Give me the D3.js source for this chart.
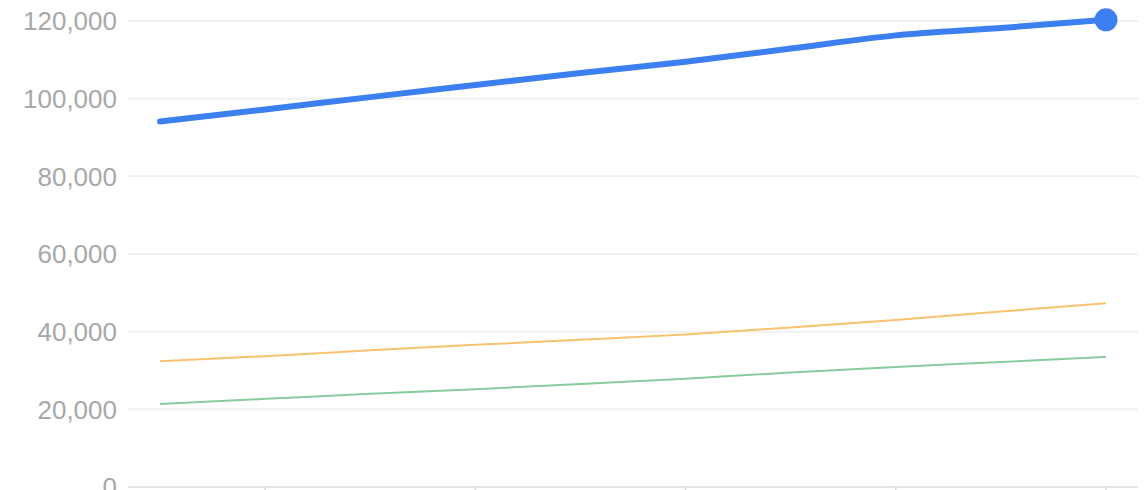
<!DOCTYPE html>
<html>
<head>
<meta charset="utf-8">
<script src="https://cdn.jsdelivr.net/npm/d3@7"></script>
<style>
  html, body { margin: 0; padding: 0; background: #fff; overflow: hidden; }
  svg { display: block; }
  .tick-label { font-family: "Liberation Sans", Arial, sans-serif; font-size: 26px; fill: #a8a8a8; }
</style>
</head>
<body>
<svg id="chart" width="1147" height="490"></svg>
<script>
// data
const periods = ["P1", "P2", "P3", "P4", "P5", "P6", "P7", "P8", "P9", "P10"];
const blueSeries = [94100, 97200, 100400, 103500, 106600, 109500, 112900, 116300, 118200, 120300];
const orangeSeries = [32400, 33700, 35200, 36600, 37900, 39300, 41100, 43000, 45200, 47300];
const greenSeries = [21400, 22700, 24000, 25200, 26500, 27900, 29500, 30900, 32200, 33500];
const yTicks = [0, 20000, 40000, 60000, 80000, 100000, 120000];
const xTickPeriods = ["P2", "P4", "P6", "P8", "P10"];

const svg = d3.select("#chart");

const xScale = d3.scalePoint()
    .domain(periods)
    .range([160, 1106]);

const yScale = d3.scaleLinear()
    .domain([0, 120000])
    .range([487, 21]);

// horizontal grid
svg.append("g")
    .selectAll("line")
    .data(yTicks)
    .join("line")
    .attr("x1", 128)
    .attr("x2", 1138)
    .attr("y1", d => yScale(d))
    .attr("y2", d => yScale(d))
    .attr("stroke", d => d === 0 ? "#e6e6e6" : "#f0f0f0")
    .attr("stroke-width", 2);

// y labels
svg.append("g")
    .selectAll("text")
    .data(yTicks)
    .join("text")
    .attr("class", "tick-label")
    .attr("x", 117)
    .attr("y", d => yScale(d))
    .attr("dy", "0.36em")
    .attr("text-anchor", "end")
    .text(d => d3.format(",")(d));

// small x ticks under the baseline
svg.append("g")
    .selectAll("line")
    .data(xTickPeriods)
    .join("line")
    .attr("x1", d => xScale(d))
    .attr("x2", d => xScale(d))
    .attr("y1", 487)
    .attr("y2", 492)
    .attr("stroke", "#d8d8d8")
    .attr("stroke-width", 1.5);

const line = d3.line()
    .x((d, i) => xScale(periods[i]))
    .y(d => yScale(d))
    .curve(d3.curveMonotoneX);

svg.append("path")
    .datum(greenSeries)
    .attr("d", line)
    .attr("fill", "none")
    .attr("stroke", "#86cc9c")
    .attr("stroke-width", 2);

svg.append("path")
    .datum(orangeSeries)
    .attr("d", line)
    .attr("fill", "none")
    .attr("stroke", "#f7c370")
    .attr("stroke-width", 2);

svg.append("path")
    .datum(blueSeries)
    .attr("d", line)
    .attr("fill", "none")
    .attr("stroke", "#3c7ff0")
    .attr("stroke-width", 6)
    .attr("stroke-linecap", "round")
    .attr("stroke-linejoin", "round");

const last = periods.length - 1;
svg.append("circle")
    .attr("cx", xScale(periods[last]))
    .attr("cy", yScale(blueSeries[last]))
    .attr("r", 11.5)
    .attr("fill", "#3c7ff0");
</script>
</body>
</html>
